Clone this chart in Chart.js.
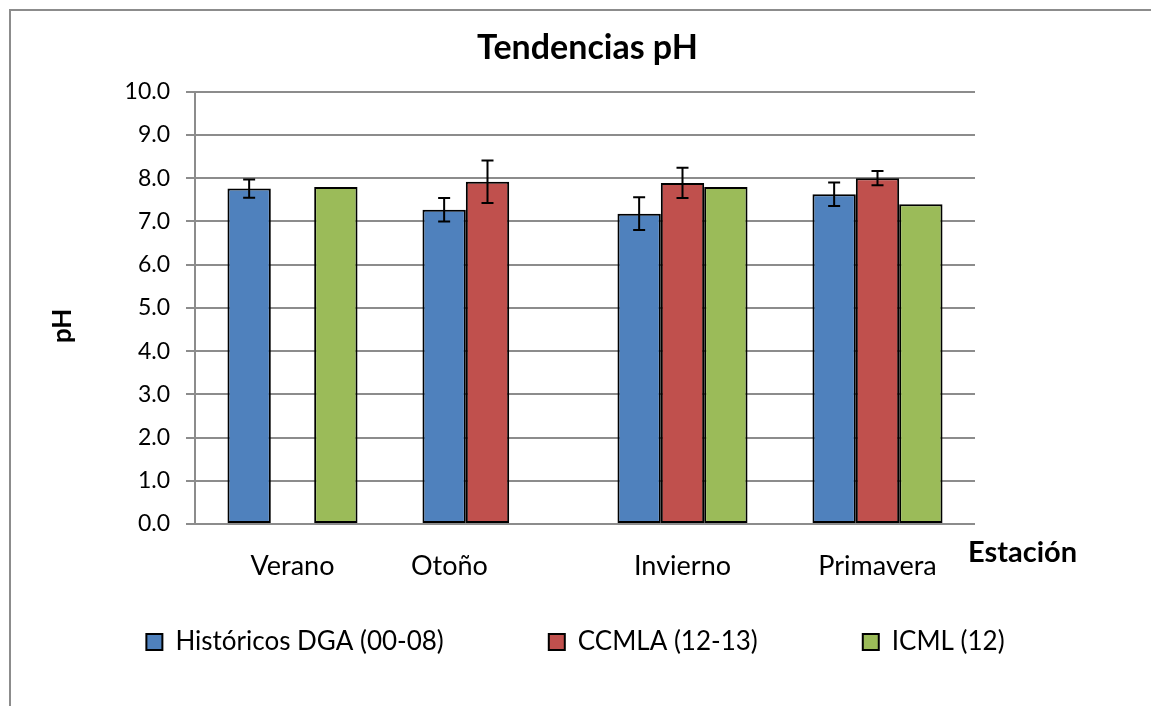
<!DOCTYPE html>
<html>
<head>
<meta charset="utf-8">
<script src="https://cdn.jsdelivr.net/npm/chart.js@4.4.1/dist/chart.umd.min.js"></script>
<style>
html,body{margin:0;padding:0;background:#fff;}
#wrap{position:relative;width:1151px;height:706px;}
</style>
</head>
<body>
<div id="wrap"><canvas id="c" width="1151" height="706"></canvas></div>
<script>
const categories = ['Verano', 'Otoño           ', 'Invierno', 'Primavera'];
const seriesNames = ['Históricos DGA (00-08)', 'CCMLA (12-13)', 'ICML (12)'];
const historicos = [7.76, 7.27, 7.18, 7.63];
const historicosErr = [0.21, 0.27, 0.38, 0.27];
const ccmla = [null, 7.92, 7.89, 8.00];
const ccmlaErr = [null, 0.49, 0.35, 0.165];
const icml = [7.80, null, 7.80, 7.40];
const icmlErr = [null, null, null, null];
const yTicks = [0, 1, 2, 3, 4, 5, 6, 7, 8, 9, 10];
const titleText = 'Tendencias pH';
const yTitle = 'pH';
const xTitle = 'Estación';

const FONT = 'Lato, Carlito, Calibri, sans-serif';
const errors = [historicosErr, ccmlaErr, icmlErr];

const frame = {
  id: 'frame',
  afterLayout(chart) {
    // nudge the title a little to the right, as in the original
    if (chart.titleBlock) { chart.titleBlock.left += 12; chart.titleBlock.right += 12; }
  },
  beforeDraw(chart) {
    const ctx = chart.ctx;
    ctx.save();
    ctx.fillStyle = '#fff';
    ctx.fillRect(0, 0, chart.width, chart.height);
    ctx.strokeStyle = '#8c8c8c';
    ctx.lineWidth = 2;
    ctx.beginPath();
    ctx.moveTo(10, chart.height);
    ctx.lineTo(10, 10);
    ctx.lineTo(chart.width, 10);
    ctx.stroke();
    ctx.restore();
  },
  afterDraw(chart) {
    const ctx = chart.ctx;
    const a = chart.chartArea;
    ctx.save();
    ctx.fillStyle = '#000';
    ctx.font = 'bold 29px ' + FONT;
    ctx.textAlign = 'left';
    ctx.textBaseline = 'middle';
    ctx.fillText(xTitle, a.right - 7, a.bottom + 29);
    ctx.translate(63, (a.top + a.bottom) / 2 + 18);
    ctx.rotate(-Math.PI / 2);
    ctx.textAlign = 'center';
    ctx.font = 'bold 26px ' + FONT;
    ctx.fillText(yTitle, 0, 0);
    ctx.restore();
  }
};

const errorBars = {
  id: 'errorBars',
  afterDatasetsDraw(chart) {
    const ctx = chart.ctx;
    const y = chart.scales.y;
    ctx.save();
    ctx.strokeStyle = '#000';
    ctx.lineWidth = 2;
    chart.data.datasets.forEach((ds, i) => {
      const meta = chart.getDatasetMeta(i);
      const errs = errors[i];
      ds.data.forEach((v, j) => {
        const e = errs[j];
        if (v == null || e == null) return;
        const x = meta.data[j].x;
        const yTop = y.getPixelForValue(v + e);
        const yBot = y.getPixelForValue(v - e);
        ctx.beginPath();
        ctx.moveTo(x, yTop); ctx.lineTo(x, yBot);
        ctx.moveTo(x - 6, yTop); ctx.lineTo(x + 6, yTop);
        ctx.moveTo(x - 6, yBot); ctx.lineTo(x + 6, yBot);
        ctx.stroke();
      });
    });
    ctx.restore();
  }
};

const mk = (label, data, color) => ({
  label, data,
  backgroundColor: color,
  borderColor: '#000',
  borderWidth: 2,
  borderSkipped: false,
  categoryPercentage: 0.667,
  barPercentage: 1.0,
  yAxisID: 'y'
});

new Chart(document.getElementById('c'), {
  type: 'bar',
  data: {
    labels: categories,
    datasets: [
      mk(seriesNames[0], historicos, '#4F81BD'),
      mk(seriesNames[1], ccmla, '#C0504D'),
      mk(seriesNames[2], icml, '#9BBB59')
    ]
  },
  options: {
    responsive: false,
    animation: false,
    layout: { padding: { left: 0, right: 0, top: 0, bottom: 41 } },
    plugins: {
      title: {
        display: true,
        text: titleText,
        color: '#000',
        font: { family: FONT, size: 34, weight: 'bold' },
        padding: { top: 28, bottom: 23 }
      },
      legend: {
        position: 'bottom',
        labels: {
          color: '#000',
          font: { family: FONT, size: 26 },
          boxWidth: 16,
          boxHeight: 16,
          padding: 105
        }
      },
      tooltip: { enabled: false }
    },
    scales: {
      x: {
        grid: { display: false, drawTicks: false },
        border: { display: false },
        ticks: { color: '#000', font: { family: FONT, size: 27 }, padding: -58, mirror: true, maxRotation: 0 },
        afterFit(s) { s.height = 0; }
      },
      y: {
        min: 0, max: 10,
        afterBuildTicks(s) { s.ticks = yTicks.map(v => ({ value: v })); },
        grid: { color: '#8c8c8c', lineWidth: 2, tickLength: 9, drawTicks: true },
        border: { color: '#8c8c8c', width: 2 },
        ticks: {
          color: '#000',
          font: { family: FONT, size: 23 },
          padding: 16,
          autoSkip: false,
          stepSize: 1,
          callback: v => Number(v).toFixed(1)
        },
        afterFit(s) { s.width = 195; }
      },
      yR: {
        position: 'right',
        display: true,
        grid: { display: false, drawTicks: false },
        border: { display: false },
        ticks: { display: false },
        afterFit(s) { s.width = 176; }
      }
    }
  },
  plugins: [frame, errorBars]
});
</script>
</body>
</html>
